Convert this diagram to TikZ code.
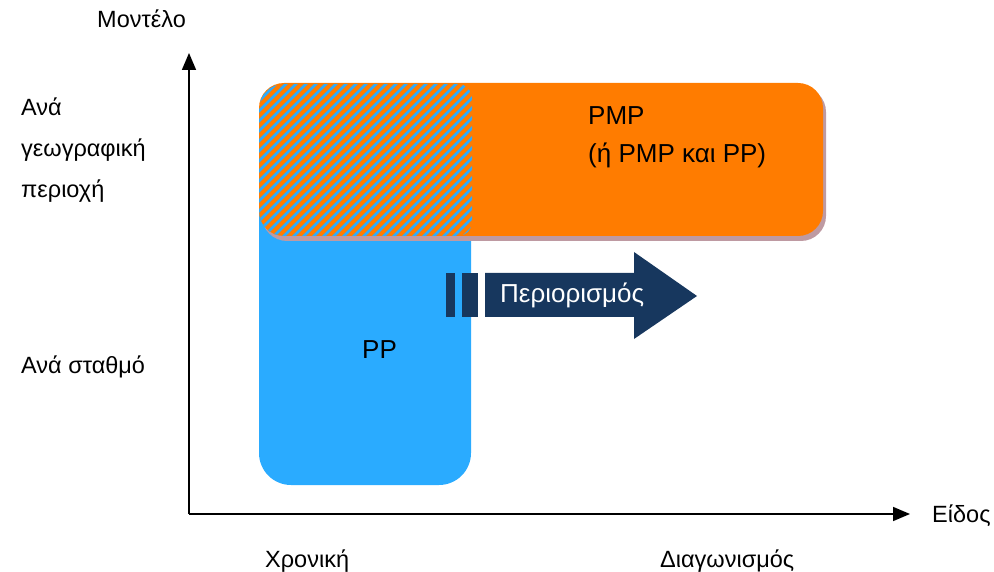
\documentclass[tikz,border=0pt]{standalone}
\usepackage{fontspec}
\setmainfont{Liberation Sans}
\usetikzlibrary{arrows.meta}
\definecolor{orangeC}{HTML}{FF7C00}
\definecolor{blueC}{HTML}{2AABFF}
\definecolor{navyC}{HTML}{17375E}
\definecolor{shadowC}{HTML}{BE9AA2}
\tikzset{
  lbl/.style={anchor=base west, inner sep=0pt, font=\fontsize{23.5}{27}\selectfont},
  boxlbl/.style={anchor=base west, inner sep=0pt, font=\fontsize{26}{30}\selectfont},
  axisline/.style={line width=1.6pt, -{Triangle[length=17pt,width=14pt]}},
}
\begin{document}
\begin{tikzpicture}[x=1pt,y=-1pt]
\useasboundingbox (0,0) rectangle (994,572);
% blue box
\fill[blueC, rounded corners=32pt] (259,150) rectangle (471,485);
% shadow of orange box
\fill[shadowC, rounded corners=25pt] (262,87) rectangle (826,241);
% orange box
\fill[orangeC, rounded corners=25pt] (259,83) rectangle (823,236);
% stripes
\begin{scope}
  \clip[rounded corners=25pt] (259,84) rectangle (823,236);
  \clip[rounded corners=14pt] (259,84) rectangle (472,236);
  \foreach \i in {0,...,45} {
    \draw[blueC, line width=2.8pt] (\i*10+60,250) -- (\i*10+240,70);
  }
\end{scope}
% axes
\coordinate (origin) at (189,514);
\coordinate (ytip) at (189,53);
\coordinate (xtip) at (910,514);
\draw[axisline] (origin) -- (ytip);
\draw[axisline] (origin) -- (xtip);
% restriction arrow
\fill[navyC] (446,273) rectangle (455,317);
\fill[navyC] (462,273) rectangle (478,317);
\fill[navyC] (485,273) -- (634,273) -- (634,252) -- (697,296) -- (634,339) -- (634,317) -- (485,317) -- cycle;
\node[boxlbl, text=white] (restr) at (500,303) {Περιορισμός};
% labels
\node[lbl] (model) at (97,28) {Μοντέλο};
\node[lbl] (l1) at (21,116) {Ανά};
\node[lbl] (l2) at (21,157) {γεωγραφική};
\node[lbl] (l3) at (21,198) {περιοχή};
\node[lbl] (l4) at (21,373) {Ανά σταθμό};
\node[boxlbl] (pp) at (362,358) {PP};
\node[boxlbl] (pmp) at (588,125) {PMP};
\node[boxlbl] (pmp2) at (588,163) {(ή PMP και PP)};
\node[lbl] (eidos) at (932,522) {Είδος};
\node[lbl] (xron) at (265,567) {Χρονική};
\node[lbl] (diag) at (660,567) {Διαγωνισμός};
\end{tikzpicture}
\end{document}
